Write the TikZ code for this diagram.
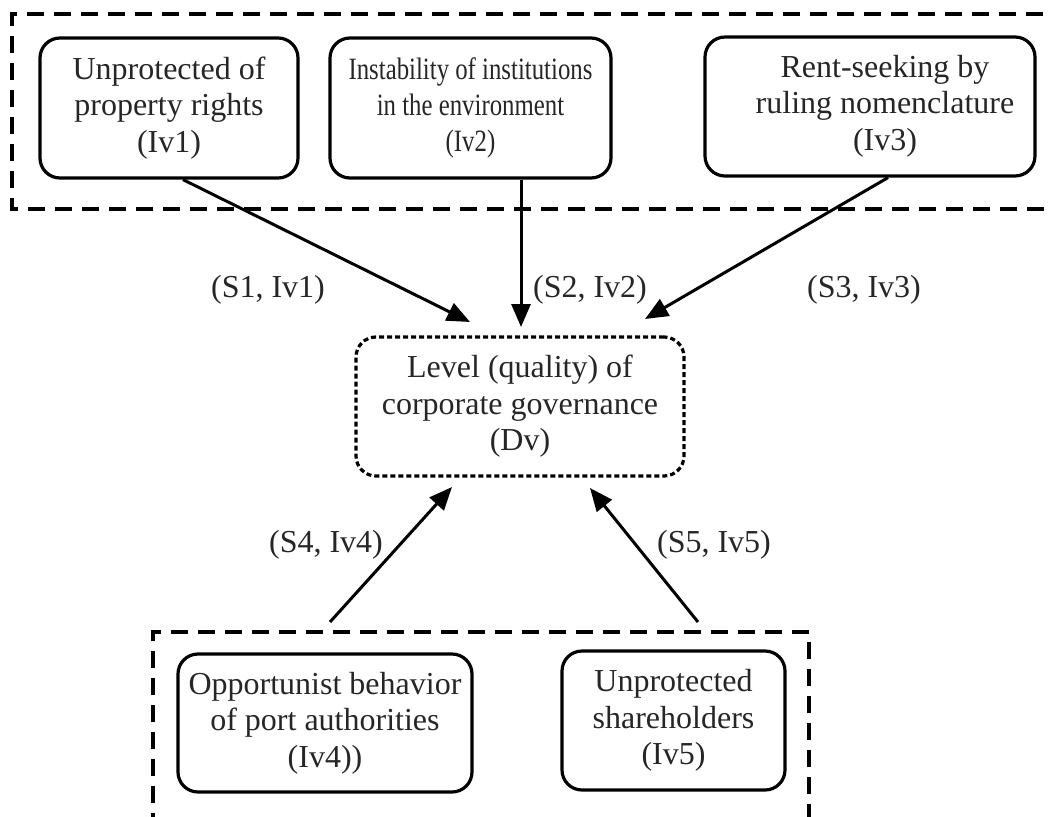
\documentclass[tikz,border=0pt]{standalone}
\usepackage{fontspec}
\setmainfont{Liberation Serif}
\newfontfamily\narrowserif[FakeStretch=0.8]{Liberation Serif}
\usetikzlibrary{arrows.meta}
\begin{document}
\begin{tikzpicture}[x=1pt,y=-1pt,
  txt/.style={font=\fontsize{32}{36.5}\selectfont, align=center, text=black!85},
  varbox/.style={txt, draw, line width=3.2pt, rounded corners=20pt, inner sep=0pt},
  dvbox/.style={txt, draw, line width=3.2pt, rounded corners=20pt, inner sep=0pt, dash pattern=on 5pt off 3pt},
  frame/.style={line width=3.8pt, dash pattern=on 17pt off 10pt},
  arr/.style={line width=3pt, -{Triangle[length=23pt,width=19pt]}},
  lab/.style={txt}
]
\useasboundingbox (0,0) rectangle (1051,816);
% frames
\draw[frame] (1070,14) -- (12,14) -- (12,209) -- (1070,209);
\draw[frame] (153,830) -- (153,632) -- (809,632) -- (809,830);
% boxes
\node[varbox, minimum width=258pt, minimum height=140pt] (iv1) at (169,108) {Unprotected of\\property rights\\(Iv1)};
\node[varbox, minimum width=281pt, minimum height=140pt, font=\narrowserif\fontsize{31}{36}\selectfont] (iv2) at (470.5,108) {Instability of institutions\\in the environment\\(Iv2)};
\node[varbox, minimum width=330pt, minimum height=139pt] (iv3) at (870,106.5) {\begin{tabular}{@{\hspace{30pt}}c@{}}Rent-seeking by\\ruling nomenclature\\(Iv3)\end{tabular}};
\node[dvbox, minimum width=328pt, minimum height=139pt] (dv) at (520,406.5) {Level (quality) of\\corporate governance\\(Dv)};
\node[varbox, minimum width=294pt, minimum height=138pt] (iv4) at (325,723) {Opportunist behavior\\of port authorities\\(Iv4))};
\node[varbox, minimum width=223pt, minimum height=139pt] (iv5) at (673.5,720.5) {Unprotected\\shareholders\\(Iv5)};
% arrow end points
\coordinate (t1) at (470,322);
\coordinate (t2) at (521,327);
\coordinate (t3) at (645,319);
\coordinate (t4) at (452,487);
\coordinate (t5) at (590,488);
\coordinate (s4) at (330,622);
\coordinate (s5) at (698,622);
% arrows
\draw[arr] ([xshift=14pt]iv1.south) -- (t1);
\draw[arr] ([xshift=50.5pt]iv2.south) -- (t2);
\draw[arr] ([xshift=18pt]iv3.south) -- (t3);
\draw[arr] (s4) -- (t4);
\draw[arr] (s5) -- (t5);
% labels
\node[lab] (l1) at (268,290) {(S1, Iv1)};
\node[lab] (l2) at (590,290) {(S2, Iv2)};
\node[lab] (l3) at (864,290) {(S3, Iv3)};
\node[lab] (l4) at (326,545) {(S4, Iv4)};
\node[lab] (l5) at (714,545) {(S5, Iv5)};
\end{tikzpicture}
\end{document}
